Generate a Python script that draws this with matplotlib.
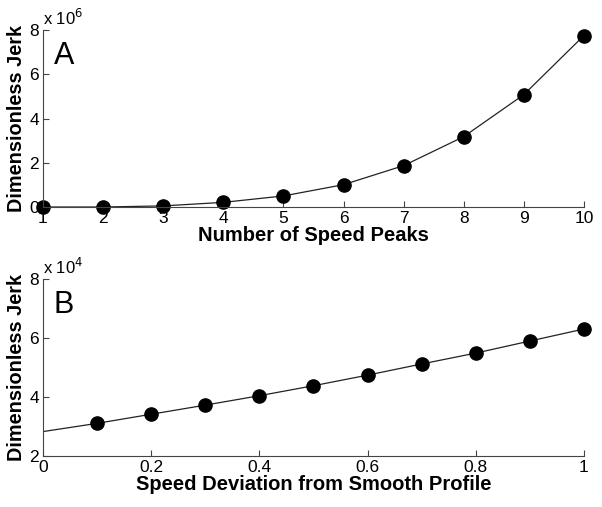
import numpy as np
import matplotlib as mpl
mpl.use('Agg')
import matplotlib.pyplot as plt

plt.rcParams['font.family'] = ['Liberation Sans', 'DejaVu Sans']

# panel A: jerk vs number of speed peaks (x 1e6)
peaks = [1, 2, 3, 4, 5, 6, 7, 8, 9, 10]
jerk_a = [0.0, 0.0, 0.05, 0.21, 0.5, 1.01, 1.87, 3.18, 5.08, 7.75]

# panel B: jerk vs speed deviation (x 1e4)
dev_line = [0.0, 0.1, 0.2, 0.3, 0.4, 0.5, 0.6, 0.7, 0.8, 0.9, 1.0]
jerk_line = [2.82, 3.10, 3.41, 3.72, 4.04, 4.38, 4.74, 5.12, 5.49, 5.90, 6.31]
dev_pts = dev_line[1:]
jerk_pts = jerk_line[1:]

fig = plt.figure(figsize=(6.02, 5.07), dpi=100)
axA = fig.add_axes([0.0714, 0.5917, 0.8986, 0.3491])
axB = fig.add_axes([0.0714, 0.1012, 0.8986, 0.3479])

def style(ax):
	ax.spines['top'].set_visible(False)
	ax.spines['right'].set_visible(False)
	for s in ['left', 'bottom']:
		ax.spines[s].set_linewidth(0.8)
		ax.spines[s].set_color('#444444')
	ax.tick_params(direction='in', length=4, width=0.8, labelsize=12.5, pad=3, color='#444444')

axA.plot(peaks, jerk_a, '-', color='#222222', lw=0.9)
axA.plot(peaks, jerk_a, 'o', color='black', ms=9.5, clip_on=False)
axA.set_xlim(1, 10)
axA.set_ylim(0, 8)
axA.set_xticks(range(1, 11))
axA.set_yticks([0, 2, 4, 6, 8])
style(axA)
axA.set_xlabel('Number of Speed Peaks', fontsize=14.5, fontweight='bold', labelpad=0)
axA.set_ylabel('Dimensionless Jerk', fontsize=14.3, fontweight='bold', labelpad=2)
axA.text(0.0, 1.03, r'x 10$^6$', transform=axA.transAxes, fontsize=12)
axA.text(0.02, 0.81, 'A', transform=axA.transAxes, fontsize=22)

axB.plot(dev_line, jerk_line, '-', color='#222222', lw=0.9)
axB.plot(dev_pts, jerk_pts, 'o', color='black', ms=9.5, clip_on=False)
axB.set_xlim(0, 1)
axB.set_ylim(2, 8)
axB.set_xticks([0, 0.2, 0.4, 0.6, 0.8, 1])
axB.set_xticklabels(['0', '0.2', '0.4', '0.6', '0.8', '1'])
axB.set_yticks([2, 4, 6, 8])
style(axB)
axB.set_xlabel('Speed Deviation from Smooth Profile', fontsize=14.5, fontweight='bold', labelpad=0)
axB.set_ylabel('Dimensionless Jerk', fontsize=14.3, fontweight='bold', labelpad=2)
axB.text(0.0, 1.03, r'x 10$^4$', transform=axB.transAxes, fontsize=12)
axB.text(0.02, 0.81, 'B', transform=axB.transAxes, fontsize=22)

plt.savefig('out.png', dpi=100)
